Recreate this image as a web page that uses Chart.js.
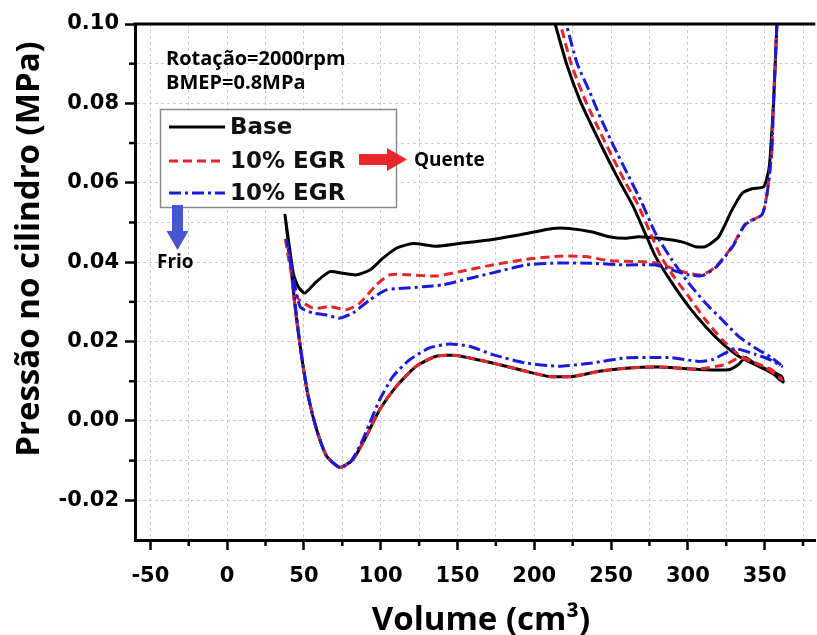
<!DOCTYPE html>
<html>
<head>
<meta charset="utf-8">
<script src="https://cdn.jsdelivr.net/npm/chart.js@4.4.1/dist/chart.umd.min.js"></script>
<style>
    html, body { margin: 0; padding: 0; background: #fff; overflow: hidden; }
    #wrap { position: relative; width: 817px; height: 635px; }
</style>
</head>
<body>
<div id="wrap"><canvas id="pv"></canvas></div>
<script>
// axis ticks (minor every 25 cm3 / 0.01 MPa, labels on the major ones)
const xTickValues = [-50, -25, 0, 25, 50, 75, 100, 125, 150, 175, 200, 225, 250, 275, 300, 325, 350, 375]
const yTickValues = [-0.02, -0.01, 0, 0.01, 0.02, 0.03, 0.04, 0.05, 0.06, 0.07, 0.08, 0.09, 0.10]

const seriesLabels = ['Base', '10% EGR', '10% EGR']

// Base: expansion end -> exhaust -> TDC -> intake -> BDC -> compression
const baseVolume = [358.0, 355.8, 353.7, 352.6, 349.4, 341.8, 335.3, 328.7, 320.1, 311.5, 305.0, 296.2, 281.2, 268.2, 259.5, 248.7, 237.9, 222.7, 211.9, 194.6,
    172.9, 151.3, 136.2, 121.0, 110.2, 101.5, 92.9, 84.2, 75.5, 66.9, 58.2, 50.6, 46.3, 43.1, 37.7, 40.9, 44.2, 48.5, 52.8, 58.2,
    64.7, 73.4, 82.0, 90.7, 99.4, 110.2, 123.2, 136.2, 149.2, 172.9, 194.6, 209.7, 224.9, 242.2, 259.5, 281.2, 306.0, 326.6, 333.0, 337.5,
    345.0, 355.0, 362.0, 361.2, 354.7, 343.9, 333.1, 322.3, 311.5, 300.6, 289.8, 279.0, 272.5, 264.5, 256.0, 248.0, 240.0, 230.0, 221.0, 213.6]
const basePressure = [0.100, 0.080, 0.067, 0.063, 0.059, 0.0585, 0.0573, 0.0531, 0.0464, 0.0439, 0.0439, 0.0451, 0.0460, 0.0464, 0.0460, 0.0464, 0.0476, 0.0485, 0.0485, 0.0472,
    0.0457, 0.0447, 0.0440, 0.0447, 0.0435, 0.0410, 0.0380, 0.0368, 0.0372, 0.0376, 0.0351, 0.0322, 0.0338, 0.0372, 0.0518, 0.0414, 0.0288, 0.0163, 0.0062, -0.0021,
    -0.0088, -0.0117, -0.0097, -0.0038, 0.0029, 0.0087, 0.0138, 0.0163, 0.0165, 0.0146, 0.0125, 0.0112, 0.0112, 0.0125, 0.0133, 0.0136, 0.0130, 0.0129, 0.0142, 0.0160,
    0.0140, 0.0120, 0.0098, 0.0112, 0.0125, 0.0142, 0.0163, 0.0196, 0.0238, 0.0288, 0.0347, 0.0414, 0.0470, 0.0540, 0.0600, 0.0660, 0.0723, 0.0805, 0.0900, 0.1000]

// 10% EGR (quente)
const hotVolume = [358.0, 355.8, 354.7, 353.7, 351.5, 348.3, 337.5, 328.8, 318.0, 309.3, 300.6, 289.8, 281.2, 270.3, 248.7, 233.6, 216.2, 194.6, 172.9, 151.3,
    136.2, 118.8, 105.8, 97.2, 86.4, 77.7, 66.9, 56.0, 45.3, 37.7, 40.9, 44.2, 48.5, 52.8, 58.2, 64.7, 73.4, 82.0, 90.7, 99.4,
    110.2, 123.2, 136.2, 149.2, 172.9, 194.6, 209.7, 224.9, 242.2, 259.5, 281.2, 306.0, 324.4, 333.0, 340.0, 350.0, 361.2, 354.7, 343.9, 333.1,
    322.3, 311.5, 300.6, 291.0, 282.5, 276.0, 267.5, 259.5, 251.5, 243.5, 233.5, 224.0, 217.0]
const hotPressure = [0.100, 0.080, 0.068, 0.064, 0.057, 0.052, 0.0497, 0.0439, 0.0388, 0.0368, 0.0372, 0.0384, 0.0397, 0.0401, 0.0404, 0.0414, 0.0415, 0.0407, 0.0393, 0.0376,
    0.0365, 0.0368, 0.0368, 0.0343, 0.0297, 0.0280, 0.0288, 0.0284, 0.0313, 0.0464, 0.0400, 0.0288, 0.0163, 0.0062, -0.0021, -0.0088, -0.0117, -0.0097, -0.0038, 0.0029,
    0.0087, 0.0138, 0.0163, 0.0165, 0.0146, 0.0125, 0.0112, 0.0112, 0.0125, 0.0133, 0.0136, 0.0131, 0.0142, 0.0158, 0.0152, 0.0136, 0.0104, 0.0129, 0.0146, 0.0167,
    0.0205, 0.0255, 0.0313, 0.0363, 0.0414, 0.0470, 0.0545, 0.0600, 0.0660, 0.0723, 0.0805, 0.0900, 0.1000]

// 10% EGR (frio)
const coldVolume = [358.0, 355.8, 354.7, 353.7, 351.5, 348.3, 337.5, 328.8, 318.0, 309.3, 300.6, 289.8, 279.0, 259.5, 237.9, 216.2, 194.6, 172.9, 157.8, 140.4,
    127.4, 114.5, 103.7, 92.9, 82.0, 73.4, 64.7, 56.0, 47.4, 38.8, 41.5, 44.5, 48.5, 52.8, 58.2, 64.7, 73.4, 79.9, 86.4, 92.9,
    99.4, 108.0, 118.8, 131.8, 144.8, 157.8, 172.9, 194.6, 216.2, 237.9, 259.5, 281.2, 289.8, 307.1, 315.8, 324.4, 330.9, 343.9, 354.7, 361.2,
    354.7, 343.9, 333.1, 322.3, 311.5, 300.6, 289.8, 279.0, 270.0, 261.0, 252.0, 243.0, 236.0, 228.0, 220.8]
const coldPressure = [0.100, 0.080, 0.068, 0.064, 0.057, 0.052, 0.0495, 0.0437, 0.0386, 0.0366, 0.0368, 0.0380, 0.0393, 0.0393, 0.0397, 0.0398, 0.0393, 0.0373, 0.0359, 0.0343,
    0.0338, 0.0334, 0.0330, 0.0305, 0.0272, 0.0259, 0.0267, 0.0272, 0.0288, 0.0455, 0.0400, 0.0288, 0.0163, 0.0062, -0.0021, -0.0088, -0.0117, -0.0105, -0.0063, -0.0005,
    0.0054, 0.0112, 0.0154, 0.0184, 0.0194, 0.0188, 0.0167, 0.0146, 0.0138, 0.0146, 0.0159, 0.0160, 0.0159, 0.0150, 0.0154, 0.0171, 0.0182, 0.0168, 0.0152, 0.0138,
    0.0159, 0.0184, 0.0213, 0.0255, 0.0297, 0.0347, 0.0405, 0.0472, 0.0550, 0.0620, 0.0690, 0.0765, 0.0830, 0.0900, 0.1000]

const colors = { base: '#000000', hot: '#e3262b', cold: '#1a1ad8', grid: '#cccccc', hotArrow: '#e8282b', coldArrow: '#4657d0' }
const dashes = { base: [], hot: [9, 5], cold: [12, 4, 3, 4] }

const toPoints = (vol, pres) => vol.map((v, i) => ({ x: v, y: pres[i] }))
const isMajorX = v => v % 50 === 0
const isMajorY = v => Math.round(v * 100) % 2 === 0

const line = (ctx, x1, y1, x2, y2) => {
    ctx.beginPath()
    ctx.moveTo(x1, y1)
    ctx.lineTo(x2, y2)
    ctx.stroke()
}

const decorPlugin = {
    id: 'decor',
    afterDraw(chart) {
        const { ctx, chartArea: area, scales: { x, y } } = chart
        ctx.save()

        // top frame line
        ctx.strokeStyle = '#000'
        ctx.lineWidth = 3
        line(ctx, area.left - 1.5, area.top, area.right, area.top)

        // short minor ticks
        ctx.lineWidth = 2.5
        x.ticks.filter(t => !isMajorX(t.value)).forEach(t => {
            const px = x.getPixelForValue(t.value)
            line(ctx, px, area.bottom, px, area.bottom + 6)
        })
        y.ticks.filter(t => !isMajorY(t.value)).forEach(t => {
            const py = y.getPixelForValue(t.value)
            line(ctx, area.left - 6, py, area.left, py)
        })

        // axis titles
        ctx.fillStyle = '#000'
        ctx.font = 'bold 33px "Open Sans"'
        ctx.textAlign = 'center'
        ctx.textBaseline = 'alphabetic'
        ctx.fillText('Volume (cm³)', 481, 630)
        ctx.save()
        ctx.translate(39, 249)
        ctx.rotate(-Math.PI / 2)
        ctx.fillText('Pressão no cilindro (MPa)', 0, 0)
        ctx.restore()

        // operating point note
        ctx.textAlign = 'left'
        ctx.font = 'bold 20px "Open Sans"'
        ctx.fillText('Rotação=2000rpm', 166, 65)
        ctx.fillText('BMEP=0.8MPa', 166, 89)

        // legend box
        ctx.fillStyle = '#fff'
        ctx.fillRect(160, 109, 237, 99)
        ctx.strokeStyle = '#8a8a8a'
        ctx.lineWidth = 1.5
        ctx.strokeRect(160.5, 109.5, 236, 98)
        const rows = [
            { y: 127, color: colors.base, dash: dashes.base },
            { y: 161, color: colors.hot, dash: dashes.hot },
            { y: 193, color: colors.cold, dash: dashes.cold }
        ]
        ctx.font = 'bold 23px "DejaVu Sans"'
        ctx.textBaseline = 'middle'
        rows.forEach((row, i) => {
            ctx.strokeStyle = row.color
            ctx.lineWidth = 3
            ctx.setLineDash(row.dash)
            line(ctx, 169, row.y, 225, row.y)
            ctx.setLineDash([])
            ctx.fillStyle = '#111'
            ctx.fillText(seriesLabels[i], 230, row.y + 1)
        })

        // "Quente" arrow
        ctx.fillStyle = colors.hotArrow
        ctx.fillRect(359, 154, 29, 11)
        ctx.beginPath()
        ctx.moveTo(387, 148)
        ctx.lineTo(407, 159.5)
        ctx.lineTo(387, 171)
        ctx.closePath()
        ctx.fill()
        ctx.fillStyle = '#000'
        ctx.font = 'bold 19px "Open Sans"'
        ctx.textBaseline = 'alphabetic'
        ctx.fillText('Quente', 414, 166)

        // "Frio" arrow
        ctx.fillStyle = colors.coldArrow
        ctx.fillRect(172, 205, 11, 27)
        ctx.beginPath()
        ctx.moveTo(166.5, 231)
        ctx.lineTo(188.5, 231)
        ctx.lineTo(177.5, 250)
        ctx.closePath()
        ctx.fill()
        ctx.fillStyle = '#000'
        ctx.fillText('Frio', 157, 268)

        ctx.restore()
    }
}

const tickFont = { family: 'DejaVu Sans', size: 21, weight: 'bold' }

new Chart(document.getElementById('pv'), {
    type: 'scatter',
    data: {
        datasets: [
            { label: seriesLabels[0], data: toPoints(baseVolume, basePressure), borderColor: colors.base, borderDash: dashes.base, order: 3 },
            { label: seriesLabels[1], data: toPoints(hotVolume, hotPressure), borderColor: colors.hot, borderDash: dashes.hot, order: 2 },
            { label: seriesLabels[2], data: toPoints(coldVolume, coldPressure), borderColor: colors.cold, borderDash: dashes.cold, order: 1 }
        ].map(ds => ({ ...ds, showLine: true, borderWidth: 3, pointRadius: 0, pointHoverRadius: 0, tension: 0.2, fill: false }))
    },
    options: {
        responsive: true,
        maintainAspectRatio: false,
        animation: false,
        events: [],
        layout: { padding: { top: 24, left: 0, right: 0, bottom: 0 } },
        plugins: { legend: { display: false }, tooltip: { enabled: false } },
        scales: {
            x: {
                type: 'linear',
                min: -60,
                max: 383,
                afterBuildTicks: scale => { scale.ticks = xTickValues.map(value => ({ value })) },
                afterFit: scale => { scale.height = 95 },
                ticks: {
                    autoSkip: false,
                    maxRotation: 0,
                    padding: 14,
                    color: '#000',
                    font: tickFont,
                    callback: v => isMajorX(v) ? String(v) : ''
                },
                grid: {
                    color: colors.grid,
                    lineWidth: 1,
                    tickLength: 10,
                    tickWidth: 2.5,
                    tickColor: c => (c.tick && isMajorX(c.tick.value)) ? '#000' : 'rgba(0,0,0,0)'
                },
                border: { display: true, color: '#000', width: 3, dash: [3, 3] }
            },
            y: {
                type: 'linear',
                min: -0.03,
                max: 0.10,
                afterBuildTicks: scale => { scale.ticks = yTickValues.map(value => ({ value })) },
                afterFit: scale => { scale.width = 135 },
                ticks: {
                    autoSkip: false,
                    padding: 6,
                    color: '#000',
                    font: tickFont,
                    callback: v => isMajorY(v) ? v.toFixed(2) : ''
                },
                grid: {
                    color: colors.grid,
                    lineWidth: 1,
                    tickLength: 10,
                    tickWidth: 2.5,
                    tickColor: c => (c.tick && isMajorY(c.tick.value)) ? '#000' : 'rgba(0,0,0,0)'
                },
                border: { display: true, color: '#000', width: 3, dash: [3, 3] }
            }
        }
    },
    plugins: [decorPlugin]
})
</script>
</body>
</html>
